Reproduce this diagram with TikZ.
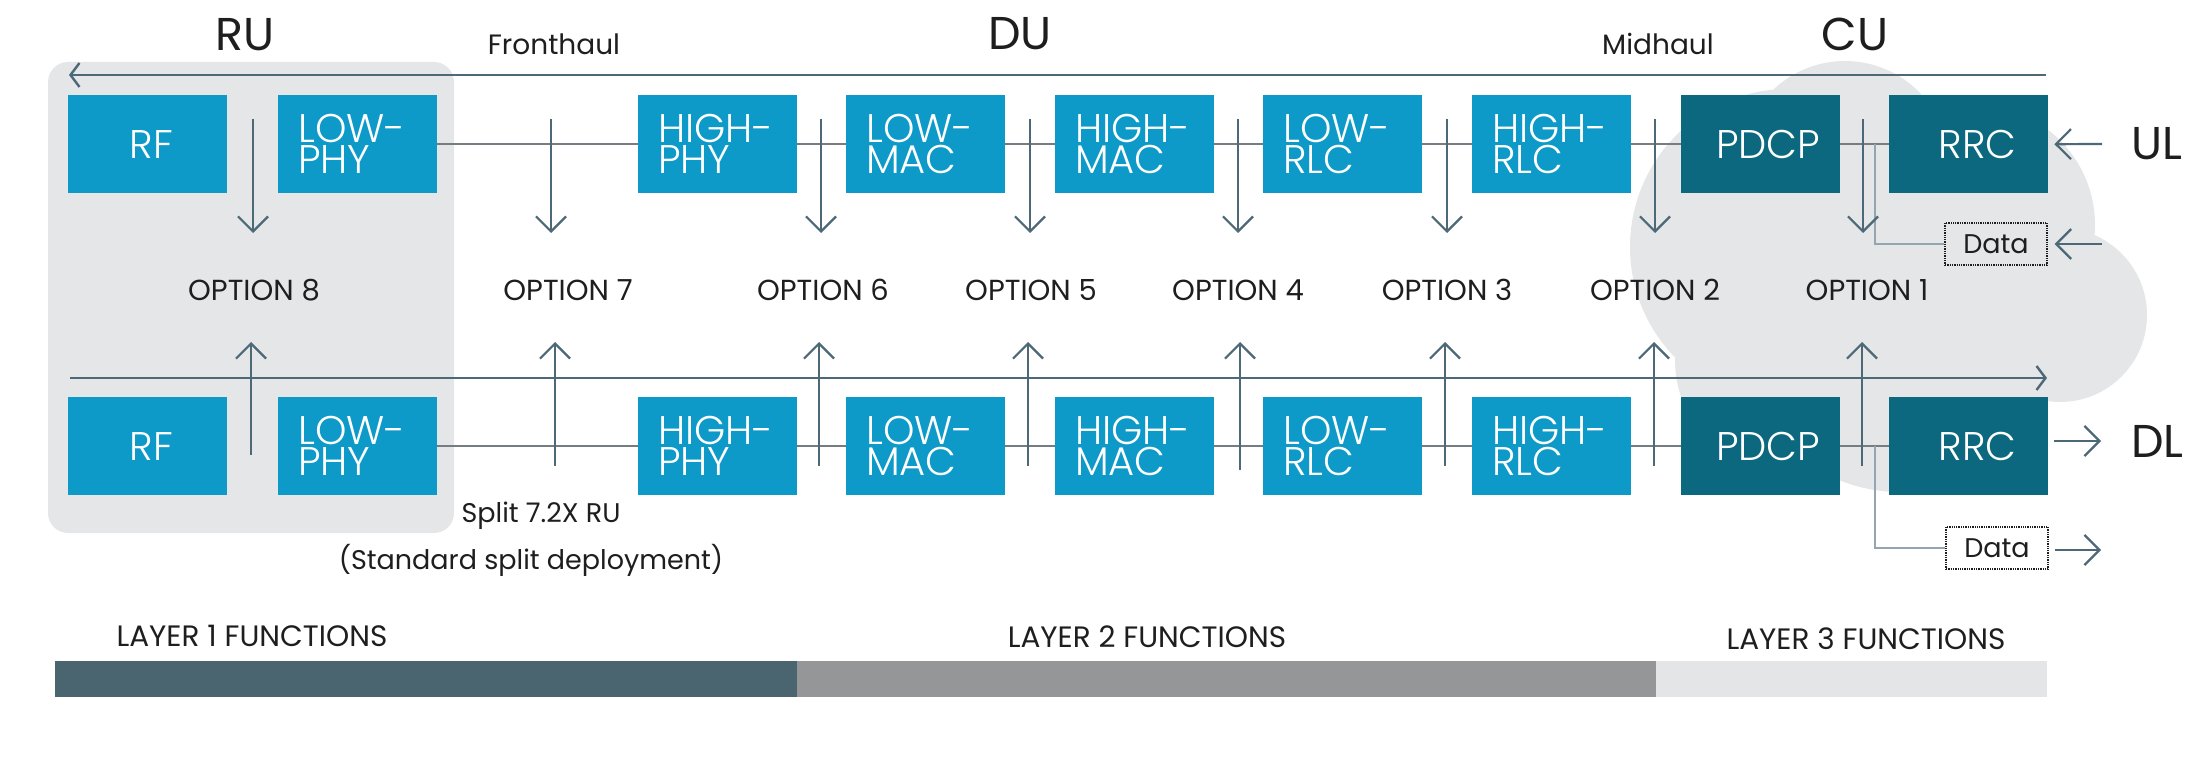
\documentclass[tikz,border=0pt]{standalone}
\usepackage{fontspec}
\setmainfont{Poppins}
\newfontfamily\lightfont{Poppins}[UprightFont={* Light}]
\usetikzlibrary{arrows.meta}

\definecolor{fnblue}{HTML}{0E9AC8}
\definecolor{fnteal}{HTML}{0B687E}
\definecolor{slate}{HTML}{4D6877}
\definecolor{linkgrey}{HTML}{757C82}
\definecolor{branchgrey}{HTML}{93A5B0}
\definecolor{panelgrey}{HTML}{E5E6E8}
\definecolor{layerone}{HTML}{4A6470}
\definecolor{layertwo}{HTML}{959698}
\definecolor{layerthree}{HTML}{E4E5E7}
\definecolor{ink}{HTML}{1E1E1E}

\newcommand\boxfont{\lightfont\fontsize{40}{31}\selectfont}
\newcommand\titlefont{\fontsize{46}{48}\selectfont}
\newcommand\smallfont{\fontsize{27}{30}\selectfont}

\begin{document}
\begin{tikzpicture}[x=1pt,y=-1pt,
  fnbox/.style={anchor=north west, minimum width=159pt, minimum height=98pt,
    inner sep=0pt, text=white, font=\boxfont},
  fnl/.style={fnbox, fill=fnblue, align=left, text width=119pt},
  fnc/.style={fnbox, fill=#1},
  optarrow/.style={draw=slate, line width=2.2pt, -{Straight Barb[length=15pt,width=30pt]}},
  busarrow/.style={draw=slate, line width=2.4pt, -{Straight Barb[length=9pt,width=24pt]}},
  link/.style={draw=linkgrey, line width=2pt},
  branch/.style={draw=branchgrey, line width=2pt},
  databox/.style={draw=ink, densely dotted, line width=1.3pt, minimum width=102pt,
    minimum height=42pt, inner sep=0pt, font=\smallfont, text=ink},
  title/.style={font=\titlefont, text=ink, inner sep=0pt},
  caption/.style={font=\smallfont, text=ink, inner sep=0pt},
  layercap/.style={font=\fontsize{29.5}{30}\selectfont, text=ink, inner sep=0pt},
  optlabel/.style={font=\fontsize{29}{30}\selectfont, text=ink, inner sep=0pt},
]
\useasboundingbox (0,0) rectangle (2188,757);

% RU housing
\fill[panelgrey, rounded corners=20pt] (48,62) rectangle (454,533);

% CU cloud built from overlapping circles
\fill[panelgrey]
  (1845,165) circle[radius=104pt]
  (1788,247) circle[radius=158pt]
  (1790,360) circle[radius=115pt]
  (1900,330) circle[radius=162pt]
  (1975,225) circle[radius=120pt]
  (2060,315) circle[radius=87pt];

% Layer bars
\fill[layerone]   (55,661)   rectangle (797,697);
\fill[layertwo]   (797,661)  rectangle (1656,697);
\fill[layerthree] (1656,661) rectangle (2047,697);

% Function blocks, uplink row (U) and downlink row (D)
\foreach \r/\y in {U/95, D/397} {
  \node[fnc=fnblue] (rf\r) at (68,\y) {\hspace*{7pt}RF};
  \node[fnl] (lphy\r) at (278,\y) {LOW-\\PHY};
  \node[fnl] (hphy\r) at (638,\y) {HIGH-\\PHY};
  \node[fnl] (lmac\r) at (846,\y) {LOW-\\MAC};
  \node[fnl] (hmac\r) at (1055,\y) {HIGH-\\MAC};
  \node[fnl] (lrlc\r) at (1263,\y) {LOW-\\RLC};
  \node[fnl] (hrlc\r) at (1472,\y) {HIGH-\\RLC};
  \node[fnc=fnteal] (pdcp\r) at (1681,\y) {\hspace*{15pt}PDCP};
  \node[fnc=fnteal] (rrc\r) at (1889,\y) {\hspace*{18pt}RRC};
}

% Links between neighbouring blocks
\foreach \r in {U,D} {
  \draw[link] (lphy\r.east) -- (hphy\r.west);
  \draw[link] (hphy\r.east) -- (lmac\r.west);
  \draw[link] (lmac\r.east) -- (hmac\r.west);
  \draw[link] (hmac\r.east) -- (lrlc\r.west);
  \draw[link] (lrlc\r.east) -- (hrlc\r.west);
  \draw[link] (hrlc\r.east) -- (pdcp\r.west);
  \draw[link] (pdcp\r.east) -- (rrc\r.west);
}

% Data taps off the PDCP-RRC link
\node[databox] (dataU) at (1996,244) {Data};
\node[databox] (dataD) at (1997,548) {Data};
\coordinate (tapU) at (1875,144);
\coordinate (tapD) at (1875,446);
\draw[branch] (tapU) |- (dataU.west);
\draw[branch] (tapD) |- (dataD.west);

% Uplink and downlink buses
\coordinate (ulbusS) at (2046,75);
\coordinate (ulbusE) at (69,75);
\coordinate (dlbusS) at (70,378);
\coordinate (dlbusE) at (2047,378);
\draw[busarrow] (ulbusS) -- (ulbusE);
\draw[busarrow] (dlbusS) -- (dlbusE);

% Split option arrows and labels
\foreach \n/\x/\xu/\yb/\xl in {8/253/251/455/254, 7/551/555/466/568, 6/821/819/466/823,
    5/1030/1028/466/1031, 4/1238/1240/470/1238, 3/1447/1445/466/1447,
    2/1655/1654/466/1655, 1/1863/1862/466/1867} {
  \coordinate (dn\n s) at (\x,119);
  \coordinate (dn\n e) at (\x,233);
  \coordinate (up\n s) at (\xu,\yb);
  \coordinate (up\n e) at (\xu,342);
  \draw[optarrow] (dn\n s) -- (dn\n e);
  \draw[optarrow] (up\n s) -- (up\n e);
  \node[optlabel] (opt\n) at (\xl,290) {OPTION \n};
}

% Side inputs and outputs
\node[title, anchor=west] (ul) at (2131,144) {UL};
\node[title, anchor=west] (dl) at (2131,441) {DL};
\coordinate (ulin) at (2102,144);
\coordinate (datain) at (2102,244);
\coordinate (dlout) at (2101,441);
\coordinate (dataout) at (2101,550);
\draw[optarrow] (ulin) -- ([xshift=6pt]rrcU.east);
\draw[optarrow] (datain) -- ([xshift=7pt]dataU.east);
\draw[optarrow] ([xshift=6pt]rrcD.east |- dlout) -- (dlout);
\draw[optarrow] ([xshift=6pt]dataD.east |- dataout) -- (dataout);

% Unit titles
\node[title] (ru) at (245,35) {RU};
\node[title] (du) at (1020,34) {DU};
\node[title] (cu) at (1855,34) {CU};
\node[caption, font=\fontsize{28}{30}\selectfont] (fh) at (554,44) {Fronthaul};
\node[caption, font=\fontsize{28}{30}\selectfont] (mh) at (1658,44) {Midhaul};

% Split note
\node[caption] (split) at (541,516) {Split 7.2X RU};
\node[caption] (std) at (531,560) {(Standard split deployment)};

% Layer captions
\node[layercap] (l1) at (252,636) {LAYER 1 FUNCTIONS};
\node[layercap] (l2) at (1147,637) {LAYER 2 FUNCTIONS};
\node[layercap] (l3) at (1866,639) {LAYER 3 FUNCTIONS};
\end{tikzpicture}
\end{document}
